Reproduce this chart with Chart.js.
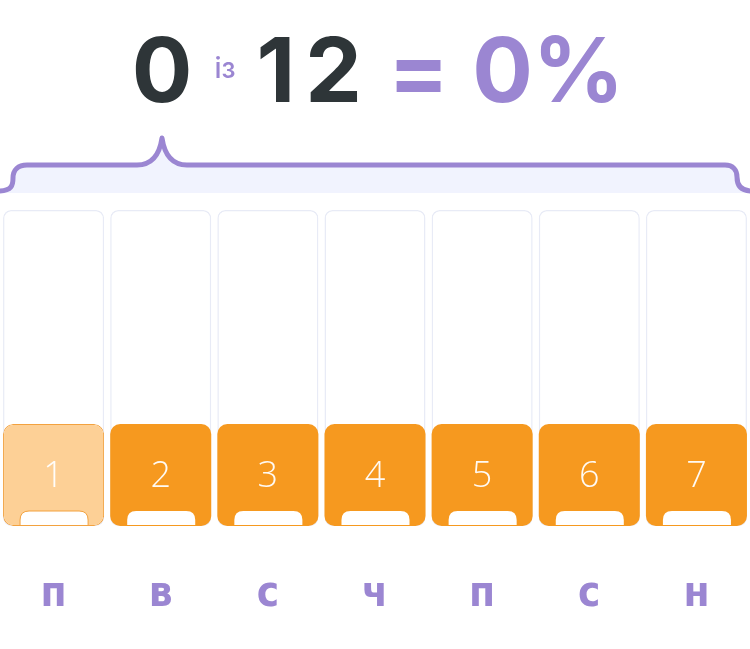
<!DOCTYPE html>
<html lang="uk">
<head>
<meta charset="UTF-8">
<title>Тиждень</title>
<script src="https://cdn.jsdelivr.net/npm/chart.js"></script>
<style>
    body { margin: 0; background: #fff; }
    #wrap { position: relative; width: 750px; height: 649px; }
    #title {
        position: absolute; left: 3px; top: 25px; width: 750px;
        text-align: center; white-space: nowrap;
        font-family: Inter, "Open Sans", sans-serif; font-weight: 700; line-height: 1;
    }
    #title span { display: inline-block; vertical-align: baseline; }
    .big { font-size: 90px; }
    .dark { color: #2e3538; }
    .purple { color: #9b86d2; }
    .small { font-size: 28px; font-weight: 500; margin: 0 21px 0 22px; position: relative; top: -24px; }
    .wide { letter-spacing: 10px; margin-right: -10px; }
    .eq { margin: 0 23px 0 26px; }
    canvas { position: absolute; left: 0; top: 0; }
</style>
<script>
    const days = ['п', 'в', 'с', 'ч', 'п', 'с', 'н'];
    const dayNumbers = ['1', '2', '3', '4', '5', '6', '7'];
    const dayCapacity = [3.1, 3.1, 3.1, 3.1, 3.1, 3.1, 3.1];
    const dayFilled = [1, 1, 1, 1, 1, 1, 1];
    const doneCount = 0;
    const totalCount = 12;

    var purple = '#9b86d2';
    var orange = '#f6991f';

    function bracePath(ctx, l, r, peak, y, yEnd) {
        ctx.moveTo(l - 2, yEnd);
        ctx.bezierCurveTo(l + 12, yEnd, l + 13, yEnd - 6, l + 13, yEnd - 13);
        ctx.bezierCurveTo(l + 13, y + 5, l + 18, y, l + 27, y);
        ctx.lineTo(peak - 25, y);
        ctx.quadraticCurveTo(peak - 4, y, peak, y - 27);
        ctx.quadraticCurveTo(peak + 4, y, peak + 25, y);
        ctx.lineTo(r - 25, y);
        ctx.bezierCurveTo(r - 17, y, r - 13, y + 5, r - 13, y + 12);
        ctx.bezierCurveTo(r - 13, yEnd - 5, r - 8, yEnd, r + 2, yEnd);
    }

    // brace + light band above the columns
    var bracePlugin = {
        id: 'brace',
        beforeDraw: function (chart) {
            var ctx = chart.ctx, a = chart.chartArea;
            var l = a.left, r = a.right;
            var peak = l + (r - l) * 0.216;
            var y = a.top - 45, yEnd = a.top - 19;
            ctx.save();
            ctx.beginPath();
            bracePath(ctx, l, r, peak, y, yEnd);
            ctx.lineTo(r + 2, yEnd + 2);
            ctx.lineTo(l - 2, yEnd + 2);
            ctx.closePath();
            ctx.fillStyle = '#f1f3fe';
            ctx.fill();

            ctx.beginPath();
            bracePath(ctx, l, r, peak, y, yEnd);
            ctx.strokeStyle = purple;
            ctx.lineWidth = 5;
            ctx.lineCap = 'round';
            ctx.lineJoin = 'round';
            ctx.stroke();
            ctx.restore();
        }
    };

    // white tab at the bottom of each block and the day number
    var blockPlugin = {
        id: 'blocks',
        afterDatasetsDraw: function (chart) {
            var ctx = chart.ctx;
            var meta = chart.getDatasetMeta(0);
            ctx.save();
            meta.data.forEach(function (bar, i) {
                var w = bar.width;
                var left = bar.x - w / 2;
                var nl = left + 17, nw = w - 33, nh = 14;
                var top = bar.base - nh - 1;
                ctx.beginPath();
                ctx.moveTo(nl, bar.base - 1);
                ctx.lineTo(nl, top + 9);
                ctx.quadraticCurveTo(nl, top, nl + 9, top);
                ctx.lineTo(nl + nw - 9, top);
                ctx.quadraticCurveTo(nl + nw, top, nl + nw, top + 9);
                ctx.lineTo(nl + nw, bar.base - 1);
                ctx.fillStyle = '#fff';
                ctx.fill();
                if (i === 0) {
                    ctx.strokeStyle = '#f3a23f';
                    ctx.lineWidth = 1;
                    ctx.stroke();
                }
                ctx.fillStyle = 'rgba(255,255,255,0.95)';
                ctx.font = '300 36px "Open Sans", Lato, sans-serif';
                ctx.textAlign = 'center';
                ctx.textBaseline = 'middle';
                ctx.fillText(dayNumbers[i], bar.x, (bar.y + bar.base) / 2 + 2);
            });
            ctx.restore();
        }
    };

    window.onload = function () {
        document.getElementById('done').textContent = doneCount;
        document.getElementById('total').textContent = totalCount;
        document.getElementById('pct').textContent = Math.round(doneCount / totalCount * 100) + '%';

        var ctx = document.getElementById('weekChart');
        new Chart(ctx, {
            type: 'bar',
            data: {
                labels: days,
                datasets: [{
                    label: 'filled',
                    data: dayFilled,
                    grouped: false,
                    backgroundColor: dayFilled.map(function (v, i) { return i === 0 ? '#fdd096' : orange; }),
                    borderColor: dayFilled.map(function (v, i) { return i === 0 ? '#f3a23f' : orange; }),
                    borderWidth: dayFilled.map(function (v, i) { return i === 0 ? 1 : 0; }),
                    borderRadius: 10,
                    borderSkipped: false,
                    barPercentage: 0.943,
                    categoryPercentage: 1
                }, {
                    label: 'capacity',
                    data: dayCapacity,
                    grouped: false,
                    backgroundColor: '#ffffff',
                    borderColor: '#e8ebf6',
                    borderWidth: 1.5,
                    borderRadius: 8,
                    borderSkipped: false,
                    barPercentage: 0.943,
                    categoryPercentage: 1
                }]
            },
            options: {
                responsive: false,
                animation: false,
                layout: { padding: { top: 210, left: 0, right: 0, bottom: 10 } },
                plugins: { legend: { display: false }, tooltip: { enabled: false } },
                scales: {
                    x: {
                        grid: { display: false, drawTicks: false },
                        border: { display: false },
                        ticks: {
                            padding: 44,
                            color: purple,
                            font: { family: '"Liberation Sans Narrow", "DejaVu Sans Condensed", sans-serif', size: 42, weight: 'bold' }
                        },
                        afterFit: function (s) {
                            s.paddingLeft = 0;
                            s.paddingRight = 0;
                            s.height = 113;
                        }
                    },
                    y: { display: false, min: 0, max: 3.1 }
                }
            },
            plugins: [bracePlugin, blockPlugin]
        });
    };
</script>
</head>
<body>
<div id="wrap">
    <canvas id="weekChart" width="750" height="649"></canvas>
    <div id="title">
        <span class="big dark" id="done"></span><span class="small purple">із</span><span class="big dark wide" id="total"></span><span class="big purple eq">=</span><span class="big purple" id="pct"></span>
    </div>
</div>
</body>
</html>
